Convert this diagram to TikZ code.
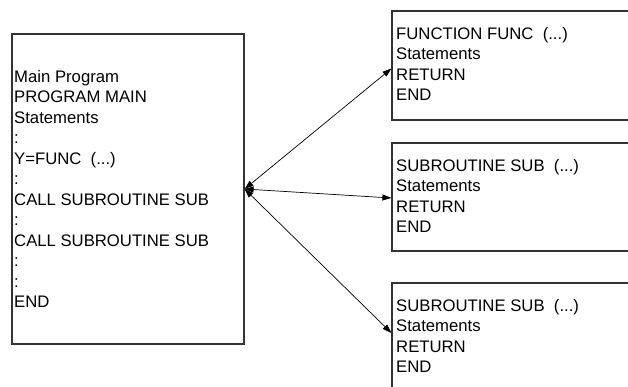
\documentclass[tikz,border=0pt]{standalone}
\usepackage{fontspec}
\setmainfont{Liberation Sans}
\usetikzlibrary{arrows.meta}
\begin{document}
\begin{tikzpicture}[x=1pt,y=1pt,
  box/.style={draw=black!80, line width=1.2pt, rectangle, inner sep=0pt},
  code/.style={anchor=north west, inner sep=0pt, align=left,
    font=\fontsize{16.7}{20.5}\selectfont},
  call/.style={draw=black, line width=0.7pt,
    {Triangle[length=9pt,width=6pt]}-{Triangle[length=9pt,width=6pt]}}]
\useasboundingbox (0,0) rectangle (628,386);

% main program
\node[box, minimum width=232, minimum height=310] (main) at (128,197) {};
\node[code] (maintext) at (14,316) {Main Program\\PROGRAM MAIN\\Statements\\:\\Y=FUNC\ \ (...)\\:\\CALL SUBROUTINE SUB\\:\\CALL SUBROUTINE SUB\\:\\:\\END};

% function and subroutines (running off the right/bottom edge)
\node[box, minimum width=248, minimum height=109] (func) at (516,320.5) {};
\node[code] (functext) at (396,359) {FUNCTION FUNC\ \ (...)\\Statements\\RETURN\\END};

\node[box, minimum width=248, minimum height=108] (sub1) at (516,189) {};
\node[code] (sub1text) at (396,227) {SUBROUTINE SUB\ \ (...)\\Statements\\RETURN\\END};

\node[box, minimum width=248, minimum height=120] (sub2) at (516,43) {};
\node[code] (sub2text) at (396,87) {SUBROUTINE SUB\ \ (...)\\Statements\\RETURN\\END};

% calls
\draw[call] (main.east) -- ([yshift=-3]func.west);
\draw[call] (main.east) -- ([yshift=-1]sub1.west);
\draw[call] (main.east) -- ([yshift=10]sub2.west);
\end{tikzpicture}
\end{document}
